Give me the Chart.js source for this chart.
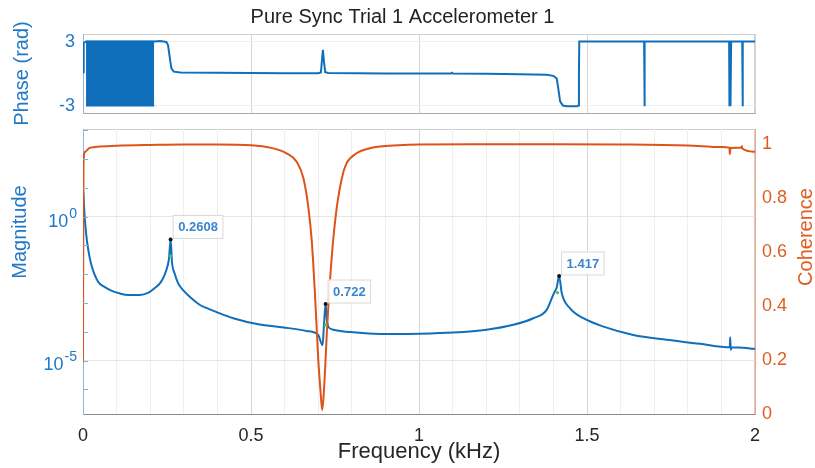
<!DOCTYPE html>
<html>
<head>
<meta charset="utf-8">
<script src="https://cdn.jsdelivr.net/npm/chart.js@4.4.1/dist/chart.umd.min.js"></script>
<style>
  body { margin: 0; background: #fff; }
  #wrap { position: relative; width: 815px; height: 468px; }
  canvas { position: absolute; left: 0; }
  #phase-chart { top: 0; }
  #mag-chart { top: 120px; }
</style>
</head>
<body>
<div id="wrap">
  <canvas id="phase-chart" width="815" height="140"></canvas>
  <canvas id="mag-chart" width="815" height="348"></canvas>
</div>
<script>
// ---- data (frequency in kHz) ----
const phaseFreq = [0, 0.002, 0.009, 0.212, 0.230, 0.248, 0.253, 0.258, 0.263, 0.270, 0.290, 0.400, 0.500,
  0.600, 0.700, 0.708, 0.711, 0.714, 0.717, 0.721, 0.730, 0.900, 1.000, 1.095, 1.098, 1.101, 1.200, 1.300,
  1.380, 1.400, 1.410, 1.415, 1.420, 1.428, 1.440, 1.470, 1.474, 1.476, 1.477, 1.670, 1.671, 1.672, 1.923,
  1.924, 1.926, 1.927, 1.929, 1.962, 1.963, 1.964, 2.000];
const phaseVals = [0.15, 2.9, 3.04, 3.04, 3.09, 3.0, 2.7, 1.6, 0.5, 0.2, 0.13, 0.1, 0.07,
  0.06, 0.06, 0.12, 1.2, 2.25, 1.2, 0.15, 0.07, 0.03, 0.02, 0.02, 0.1, 0.02, 0.0, -0.05,
  -0.1, -0.2, -0.45, -1.5, -2.6, -3.0, -3.07, -3.07, -3.0, 0, 3.04, 3.04, -3.07, 3.04, 3.04,
  -3.07, 3.04, -3.07, 3.04, 3.04, -3.07, 3.04, 3.04];
// wrapped-phase noise band at low frequency
const bandFreq = [0.009, 0.212];
const bandTop = [3.04, 3.04];
const bandBottom = [-3.02, -3.02];

const magFreq = [0.001, 0.005, 0.0098, 0.015, 0.025, 0.045, 0.065, 0.084, 0.11, 0.134, 0.169, 0.195, 0.213,
  0.230, 0.243, 0.252, 0.256, 0.2608, 0.265, 0.272, 0.283, 0.300, 0.322, 0.348, 0.367, 0.398, 0.447, 0.522,
  0.597, 0.666, 0.700, 0.713, 0.717, 0.722, 0.726, 0.730, 0.745, 0.795, 0.850, 0.914, 1.003, 1.102, 1.201,
  1.281, 1.340, 1.380, 1.400, 1.410, 1.417, 1.425, 1.449, 1.489, 1.549, 1.638, 1.737, 1.836, 1.925, 1.926,
  1.928, 1.930, 1.985, 2.000];
const magVals = [7.08, 1.0, 0.229, 0.0794, 0.0209, 0.0055, 0.00355, 0.00269, 0.00214, 0.00191, 0.00191, 0.00229, 0.00324,
  0.00501, 0.00955, 0.02, 0.0355, 0.162, 0.0251, 0.0112, 0.0049, 0.00263, 0.00148, 0.000851, 0.000676, 0.000479, 0.000295, 0.000182,
  0.000141, 0.000107, 7.76e-5, 3.4e-5, 1.6e-4, 9.2e-4, 2.5e-4, 1.51e-4, 1.17e-4, 9.77e-5, 8.71e-5, 8.32e-5, 8.51e-5, 9.33e-5, 1.17e-4,
  1.74e-4, 2.95e-4, 5.75e-4, 2.0e-3, 3.55e-3, 8.7e-3, 2.19e-3, 6.61e-4, 2.95e-4, 1.51e-4, 7.76e-5, 5.25e-5, 3.8e-5, 2.88e-5, 6.46e-5,
  2.34e-5, 2.88e-5, 2.63e-5, 2.51e-5];

const cohFreq = [0, 0.0015, 0.006, 0.02, 0.05, 0.1, 0.2, 0.3, 0.4, 0.5, 0.557, 0.606, 0.636, 0.656, 0.671, 0.681,
  0.690, 0.700, 0.707, 0.712, 0.718, 0.727, 0.740, 0.755, 0.775, 0.782, 0.785, 0.815, 0.854, 0.884, 1.0, 1.2,
  1.4, 1.6, 1.8, 1.9, 1.924, 1.925, 1.927, 1.960, 1.961, 1.962, 2.0];
const cohVals = [0.19, 0.93, 0.97, 0.985, 0.99, 0.993, 0.996, 0.998, 0.998, 0.995, 0.986, 0.965, 0.934, 0.873, 0.762, 0.638,
  0.453, 0.206, 0.083, 0.015, 0.107, 0.33, 0.577, 0.762, 0.897, 0.92, 0.93, 0.966, 0.984, 0.99, 0.998, 0.999,
  0.999, 0.998, 0.994, 0.988, 0.986, 0.962, 0.985, 0.986, 0.992, 0.983, 0.971];

const peakFreq = [0.2608, 0.722, 1.417];
const peakMag = [0.162, 9.2e-4, 8.7e-3];
const peakLabels = ['0.2608', '0.722', '1.417'];
const markFreq = [0.2605, 0.7215, 1.412];
const markMag = [0.0427, 1.74e-4, 2.29e-3];

const xTickLabels = ['0', '0.5', '1', '1.5', '2'];
const phaseTicks = [-3, 3];
const magDecades = [1e-6, 1e-5, 1e-4, 1e-3, 1e-2, 1e-1, 1, 10, 100, 1000];
const magLabelVals = [1e-5, 1];
const magLabelExp = ['-5', '0'];
const cohTicks = [0, 0.2, 0.4, 0.6, 0.8, 1];
const cohTickLabels = ['0', '0.2', '0.4', '0.6', '0.8', '1'];

const BLUE = '#0f6fbb';
const BLUE_TXT = '#2179c6';
const ORANGE = '#dc5419';
const ORANGE_TXT = '#e05d22';
const FONT = "'Liberation Sans', 'DejaVu Sans', sans-serif";

Chart.defaults.font.family = FONT;
Chart.defaults.color = '#262626';

const pts = (xs, ys) => xs.map((x, i) => ({ x: x, y: ys[i] }));
// fixed axis box sizes so both panels share the same plot edges
const fixWidth = w => s => { s.width = w; s.paddingTop = 0; s.paddingBottom = 0; };

// grey box round the plot area
const framePlugin = {
  id: 'frame',
  beforeDraw(chart) {
    const a = chart.chartArea, ctx = chart.ctx;
    ctx.save();
    ctx.strokeStyle = '#cfcfcf';
    ctx.lineWidth = 1;
    ctx.strokeRect(a.left + 0.5, a.top + 0.5, a.right - a.left - 1, a.bottom - a.top);
    ctx.restore();
  }
};

new Chart(document.getElementById('phase-chart'), {
  type: 'line',
  data: {
    datasets: [
      { data: pts(phaseFreq, phaseVals), borderColor: BLUE, borderWidth: 2, pointRadius: 0, fill: false },
      { data: pts(bandFreq, bandTop), borderColor: BLUE, backgroundColor: BLUE, borderWidth: 1.5, pointRadius: 0, fill: '+1' },
      { data: pts(bandFreq, bandBottom), borderColor: BLUE, borderWidth: 1.5, pointRadius: 0, fill: false }
    ]
  },
  options: {
    responsive: false,
    animation: false,
    layout: { padding: { top: 5, right: 10, bottom: 0, left: 0 } },
    plugins: {
      legend: { display: false },
      tooltip: { enabled: false },
      title: {
        display: true,
        text: 'Pure Sync Trial 1 Accelerometer 1',
        color: '#222',
        font: { size: 20, weight: 'normal' },
        padding: { top: 0, bottom: 5 }
      }
    },
    scales: {
      x: {
        type: 'linear', min: 0, max: 2,
        afterBuildTicks: s => { s.ticks = [0, 0.5, 1, 1.5, 2].map(v => ({ value: v })); },
        afterFit: s => { s.height = 27; s.paddingLeft = 0; s.paddingRight = 0; },
        ticks: { display: false },
        grid: { color: '#d6d6d6', drawTicks: false },
        border: { color: '#a8a8a8' }
      },
      y: {
        min: -3.7, max: 3.75,
        afterBuildTicks: s => { s.ticks = phaseTicks.map(v => ({ value: v })); },
        afterFit: fixWidth(83),
        ticks: { color: BLUE_TXT, font: { size: 18 }, padding: 8 },
        grid: { color: '#f1f1f1', drawTicks: false },
        border: { color: '#8fb7de' },
        title: { display: true, text: 'Phase (rad)', color: BLUE_TXT, font: { size: 20 }, padding: { top: 10 } }
      },
      // empty right gutter, same width as the coherence axis below
      yR: {
        position: 'right', min: -3.7, max: 3.75,
        afterFit: fixWidth(50),
        ticks: { display: false },
        grid: { display: false },
        border: { display: false }
      }
    }
  },
  plugins: [framePlugin]
});

// datatip boxes, power-of-ten tick labels and rotated side labels for the magnitude panel
const tipPlugin = {
  id: 'tips',
  afterDatasetsDraw(chart) {
    const ctx = chart.ctx, xs = chart.scales.x, ys = chart.scales.y;
    ctx.save();
    // short inward ticks at every decade
    ctx.strokeStyle = '#7fb0dc';
    ctx.lineWidth = 1;
    magDecades.forEach(v => {
      const y = Math.round(ys.getPixelForValue(v)) + 0.5;
      ctx.beginPath();
      ctx.moveTo(ys.right, y);
      ctx.lineTo(ys.right + 5, y);
      ctx.stroke();
    });
    ctx.font = 'bold 13px ' + FONT;
    peakFreq.forEach((f, i) => {
      const px = xs.getPixelForValue(f), py = ys.getPixelForValue(peakMag[i]);
      const w = ctx.measureText(peakLabels[i]).width + 10, h = 23;
      const bx = px + 2, by = py - 1.5 - h;
      ctx.fillStyle = 'rgba(255,255,255,0.92)';
      ctx.fillRect(bx, by, w, h);
      ctx.strokeStyle = '#d9d9d9';
      ctx.strokeRect(bx + 0.5, by + 0.5, w, h);
      ctx.fillStyle = '#3b86cc';
      ctx.textAlign = 'center';
      ctx.textBaseline = 'middle';
      ctx.fillText(peakLabels[i], bx + w / 2 + 0.5, by + h / 2 + 1);
    });
    ctx.restore();
  },
  afterDraw(chart) {
    const ctx = chart.ctx, ys = chart.scales.y;
    ctx.save();
    ctx.fillStyle = BLUE_TXT;
    ctx.textAlign = 'right';
    ctx.textBaseline = 'middle';
    magLabelVals.forEach((v, i) => {
      const y = ys.getPixelForValue(v), xr = ys.right - 6;
      ctx.font = '14px ' + FONT;
      const ew = ctx.measureText(magLabelExp[i]).width;
      ctx.fillText(magLabelExp[i], xr, y - 3);
      ctx.font = '18px ' + FONT;
      ctx.fillText('10', xr - ew - 1, y + 5);
    });
    ctx.font = '20px ' + FONT;
    ctx.textAlign = 'center';
    [['Magnitude', 20, 112, BLUE_TXT], ['Coherence', 806, 117, ORANGE_TXT]].forEach(([t, x, y, c]) => {
      ctx.save();
      ctx.translate(x, y);
      ctx.rotate(-Math.PI / 2);
      ctx.fillStyle = c;
      ctx.fillText(t, 0, 0);
      ctx.restore();
    });
    ctx.restore();
  }
};

new Chart(document.getElementById('mag-chart'), {
  type: 'line',
  data: {
    datasets: [
      { data: pts(peakFreq, peakMag), yAxisID: 'y', showLine: false, pointRadius: 2, pointBackgroundColor: '#111', pointBorderWidth: 0 },
      { data: pts(markFreq, markMag), yAxisID: 'y', showLine: false, pointRadius: 1.6, pointBackgroundColor: '#3fcf3f', pointBorderWidth: 0 },
      { data: pts(cohFreq, cohVals), yAxisID: 'y1', borderColor: ORANGE, borderWidth: 2, pointRadius: 0, cubicInterpolationMode: 'monotone' },
      { data: pts(magFreq, magVals), yAxisID: 'y', borderColor: BLUE, borderWidth: 2, pointRadius: 0, cubicInterpolationMode: 'monotone' }
    ]
  },
  options: {
    responsive: false,
    animation: false,
    layout: { padding: { top: 9, right: 0, bottom: 0, left: 0 } },
    plugins: { legend: { display: false }, tooltip: { enabled: false } },
    scales: {
      x: {
        type: 'linear', min: 0, max: 2,
        afterBuildTicks: s => { s.ticks = Array.from({ length: 21 }, (_, i) => ({ value: i / 10 })); },
        afterFit: s => { s.height = 54; s.paddingLeft = 0; s.paddingRight = 0; },
        ticks: {
          autoSkip: false, maxRotation: 0, padding: 11, color: '#262626', font: { size: 18 },
          callback: (v, i) => (i % 5 === 0 ? xTickLabels[i / 5] : '')
        },
        grid: { drawTicks: false, color: c => (c.index % 5 === 0 ? '#d6d6d6' : '#efefef') },
        border: { color: '#8a8a8a' },
        title: { display: true, text: 'Frequency (kHz)', color: '#262626', font: { size: 22 }, padding: { top: 0, bottom: 3 } }
      },
      y: {
        type: 'logarithmic', position: 'left', min: 1.38e-7, max: 1122,
        afterBuildTicks: s => { s.ticks = magDecades.map(v => ({ value: v })); },
        afterFit: fixWidth(83),
        ticks: { autoSkip: false, callback: () => '' },
        grid: {
          drawTicks: false,
          color: c => (c.tick && magLabelVals.some(m => Math.abs(Math.log10(c.tick.value) - Math.log10(m)) < 0.01) ? '#e6e6e6' : 'rgba(0,0,0,0)')
        },
        border: { color: '#8fb7de' }
      },
      y1: {
        type: 'linear', position: 'right', min: 0, max: 1.055,
        afterBuildTicks: s => { s.ticks = cohTicks.map(v => ({ value: v })); },
        afterFit: fixWidth(60),
        ticks: { color: ORANGE_TXT, font: { size: 18 }, padding: 7, callback: (v, i) => cohTickLabels[i] },
        grid: { drawOnChartArea: false, drawTicks: false },
        border: { color: '#f2a57f' }
      }
    }
  },
  plugins: [framePlugin, tipPlugin]
});
</script>
</body>
</html>
